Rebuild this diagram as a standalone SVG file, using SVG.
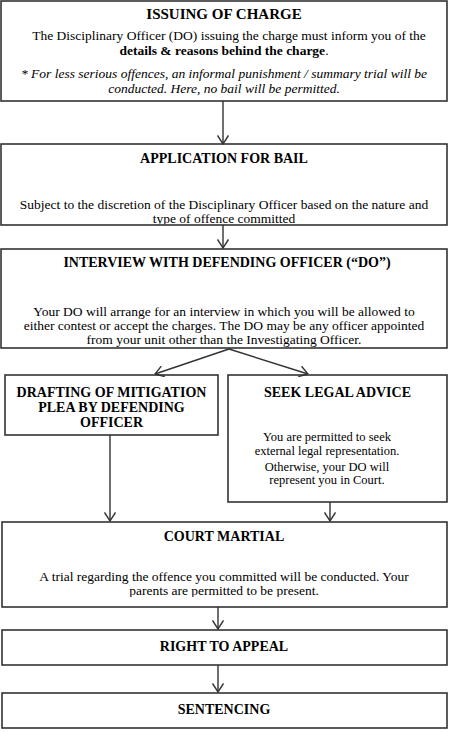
<svg xmlns="http://www.w3.org/2000/svg" width="452" height="732" viewBox="0 0 452 732">
<style>
.box{fill:#fff;stroke:#333;stroke-width:1.6}
.t{font-family:"Liberation Serif","Times New Roman",serif;font-weight:bold;font-size:14px;fill:#000;text-anchor:middle}
.b{font-family:"Liberation Serif","Times New Roman",serif;font-size:13.5px;fill:#000;text-anchor:middle}
.s{font-family:"Liberation Serif","Times New Roman",serif;font-size:12.5px;fill:#000;text-anchor:middle}
.i{font-style:italic}
.c{fill:none;stroke:#333;stroke-width:1.4}
</style>
<defs>
<marker id="ah" viewBox="0 0 10 12" refX="9.5" refY="6" markerWidth="10" markerHeight="12" markerUnits="userSpaceOnUse" orient="auto">
<path d="M1,0.5 L9.5,6 L1,11.5" fill="none" stroke="#333" stroke-width="1.4"/>
</marker>
<clipPath id="c2"><rect x="0" y="140" width="452" height="84.3"/></clipPath>
<clipPath id="c5"><rect x="0" y="520" width="452" height="77"/></clipPath>
</defs>
<g id="n1">
<rect class="box" x="1" y="1" width="446" height="100"/>
<text class="t" x="224" y="19" style="font-size:15px">ISSUING OF CHARGE</text>
<text class="b" x="229" y="40">The Disciplinary Officer (DO) issuing the charge must inform you of the</text>
<text class="b" x="224" y="55"><tspan font-weight="bold">details &amp; reasons behind the charge</tspan>.</text>
<text class="b i" x="224" y="78">* For less serious offences, an informal punishment / summary trial will be</text>
<text class="b i" x="224" y="93">conducted. Here, no bail will be permitted.</text>
</g>
<g id="n2">
<rect class="box" x="1" y="144" width="446" height="81"/>
<text class="t" x="224" y="163">APPLICATION FOR BAIL</text>
<g clip-path="url(#c2)">
<text class="b" x="224" y="209">Subject to the discretion of the Disciplinary Officer based on the nature and</text>
<text class="b" x="224" y="223">type of offence committed</text>
</g>
</g>
<g id="n3">
<rect class="box" x="1" y="249" width="446" height="99"/>
<text class="t" x="227" y="267">INTERVIEW WITH DEFENDING OFFICER (“DO”)</text>
<text class="b" x="224" y="316">Your DO will arrange for an interview in which you will be allowed to</text>
<text class="b" x="224" y="330">either contest or accept the charges. The DO may be any officer appointed</text>
<text class="b" x="224" y="344">from your unit other than the Investigating Officer.</text>
</g>
<g id="n4">
<rect class="box" x="5" y="375" width="213" height="60"/>
<text class="t" x="111.5" y="397">DRAFTING OF MITIGATION</text>
<text class="t" x="111.5" y="412">PLEA BY DEFENDING</text>
<text class="t" x="111.5" y="427">OFFICER</text>
</g>
<g id="n5">
<rect class="box" x="228" y="375" width="219" height="127"/>
<text class="t" x="337.5" y="397">SEEK LEGAL ADVICE</text>
<text class="s" x="327" y="441">You are permitted to seek</text>
<text class="s" x="327" y="455">external legal representation.</text>
<text class="s" x="327" y="471">Otherwise, your DO will</text>
<text class="s" x="327" y="484">represent you in Court.</text>
</g>
<g id="n6">
<rect class="box" x="2" y="522" width="445" height="85"/>
<text class="t" x="224" y="541">COURT MARTIAL</text>
<g clip-path="url(#c5)">
<text class="b" x="224" y="581">A trial regarding the offence you committed will be conducted. Your</text>
<text class="b" x="224" y="595">parents are permitted to be present.</text>
</g>
</g>
<g id="n7">
<rect class="box" x="2" y="630" width="445" height="35"/>
<text class="t" x="224" y="651">RIGHT TO APPEAL</text>
</g>
<g id="n8">
<rect class="box" x="2" y="693" width="445" height="35"/>
<text class="t" x="224" y="714">SENTENCING</text>
</g>
<g id="connectors">
<line class="c" x1="223" y1="101" x2="223" y2="144" marker-end="url(#ah)"/>
<line class="c" x1="223" y1="225" x2="223" y2="248" marker-end="url(#ah)"/>
<line class="c" x1="229" y1="349" x2="155" y2="374" marker-end="url(#ah)"/>
<line class="c" x1="229" y1="349" x2="308" y2="374" marker-end="url(#ah)"/>
<line class="c" x1="110" y1="435" x2="110" y2="521" marker-end="url(#ah)"/>
<line class="c" x1="330" y1="502" x2="330" y2="521" marker-end="url(#ah)"/>
<line class="c" x1="218" y1="607" x2="218" y2="629" marker-end="url(#ah)"/>
<line class="c" x1="218" y1="665" x2="218" y2="692" marker-end="url(#ah)"/>
</g>
</svg>
